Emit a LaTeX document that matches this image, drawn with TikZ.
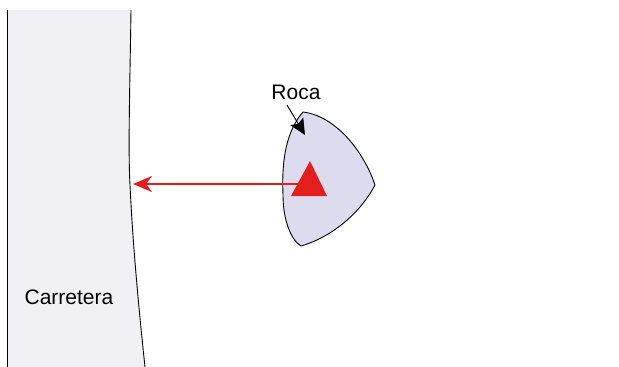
\documentclass[tikz,border=0pt]{standalone}
\usepackage{fontspec}
\setmainfont{Liberation Sans}
\usetikzlibrary{arrows.meta}
\definecolor{roadfill}{HTML}{F1F1F5}
\definecolor{rockfill}{HTML}{DCDCEE}
\definecolor{arrowred}{HTML}{E41E1E}
\begin{document}
\begin{tikzpicture}[x=1pt,y=-1pt,
  lbl/.style={font=\fontsize{21}{25}\selectfont, inner sep=0pt},
  edge/.style={draw=black, line width=0.9pt}]
\useasboundingbox (0,0) rectangle (619,367);
% road
\fill[roadfill] (7,10) -- (131,10) .. controls (130,80) and (128,150) .. (130,185) .. controls (133,250) and (140,320) .. (145,367) -- (7,367) -- cycle;
\draw[edge] (7,10) -- (7,367);
\draw[edge] (131,10) .. controls (130,80) and (128,150) .. (130,185) .. controls (133,250) and (140,320) .. (145,367);
\node[lbl] (carretera) at (69,297) {Carretera};
% rock
\path[fill=rockfill, draw=black, line width=0.9pt] (303,112)
  .. controls (336,116) and (364,152) .. (375,185)
  .. controls (362,210) and (335,236) .. (301,246)
  .. controls (291,240) and (283,220) .. (283,195)
  .. controls (282,170) and (283,135) .. (303,112) -- cycle;
\coordinate (rocktop) at (305,135);
% triangle
\fill[arrowred] (310,161) -- (327,196) -- (291,196) -- cycle;
\coordinate (tri) at (302,184);
\coordinate (roadedge) at (133,184);
\draw[draw=arrowred, line width=2.2pt, -{Stealth[length=19pt,width=16pt,inset=6pt]}] (tri) -- (roadedge);
% label
\node[lbl] (roca) at (296,92) {Roca};
\draw[black, line width=1pt, -{Stealth[length=16pt,width=15pt,inset=3pt]}] (287,105) -- (rocktop);
\end{tikzpicture}
\end{document}
